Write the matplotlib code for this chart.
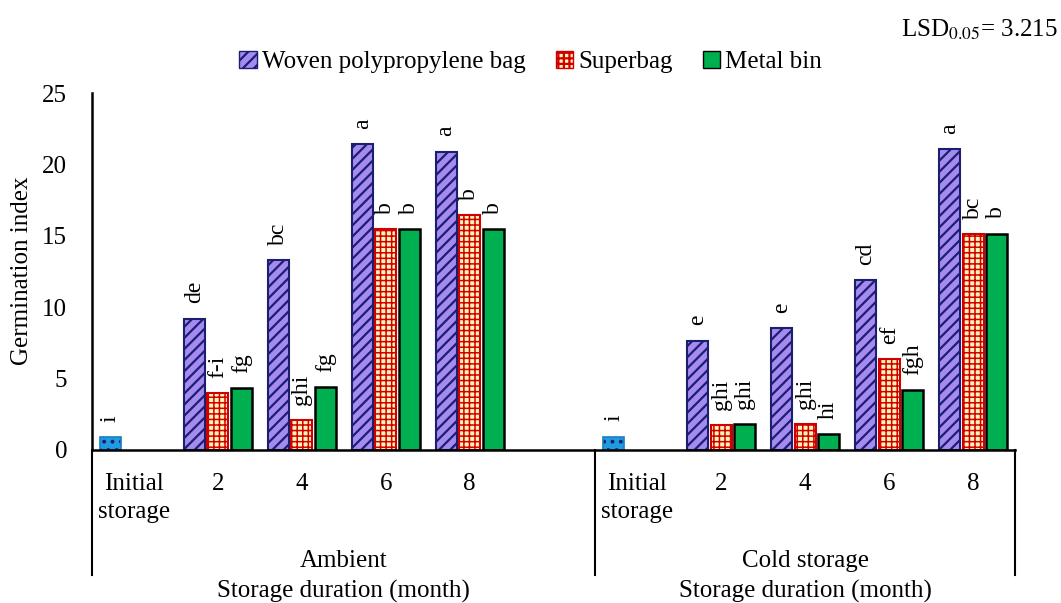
import matplotlib
matplotlib.use('Agg')
import matplotlib.pyplot as plt
from matplotlib.patches import Patch
from matplotlib.lines import Line2D
import numpy as np

plt.rcParams['font.family'] = ['Liberation Serif', 'DejaVu Serif']
plt.rcParams['mathtext.fontset'] = 'stix'
plt.rcParams['hatch.linewidth'] = 1.6

# data
months = ['2', '4', '6', '8']
initial_value = 0.92
initial_cold = 0.93

woven_amb = [9.2, 13.3, 21.4, 20.9]
super_amb = [4.0, 2.1, 15.45, 16.45]
metal_amb = [4.35, 4.4, 15.45, 15.45]
woven_cold = [7.65, 8.55, 11.9, 21.05]
super_cold = [1.75, 1.8, 6.35, 15.1]
metal_cold = [1.8, 1.1, 4.2, 15.15]

lab_woven_amb = ['de', 'bc', 'a', 'a']
lab_super_amb = ['f-i', 'ghi', 'b', 'b']
lab_metal_amb = ['fg', 'fg', 'b', 'b']
lab_woven_cold = ['e', 'e', 'cd', 'a']
lab_super_cold = ['ghi', 'ghi', 'ef', 'bc']
lab_metal_cold = ['ghi', 'hi', 'fgh', 'b']
lab_initial = 'i'

fig = plt.figure(figsize=(10.61, 6.03), dpi=100)
ax = fig.add_axes([92/1061, 153/603, 923/1061, 357/603])

step = 0.28
w = 0.25
navy = '#1c1f6e'
purple = '#a58af2'
red = '#d10000'
yellow = '#fff3b8'
green = '#00b050'
blue = '#1f9be0'

amb_pos = np.array([1, 2, 3, 4])
cold_pos = np.array([7, 8, 9, 10])


def label(x, y, s):
    ax.annotate(s, (x, y), xytext=(0, 11), textcoords='offset points',
                rotation=90, ha='center', va='bottom', fontsize=17)


def thin_hatch(bars, lw):
    for b in bars:
        if hasattr(b, 'set_hatch_linewidth'):
            b.set_hatch_linewidth(lw)


# initial storage bars (ambient and cold)
for p, v in [(0, initial_value), (6, initial_cold)]:
    ax.bar(p - step, v, w, color=blue, hatch='..', edgecolor=navy, linewidth=0)
    ax.bar(p - step, v, w, fill=False, edgecolor='#1a7fc0', linewidth=1.2)
    label(p - step, v, lab_initial)

for pos, wv, sv, mv, lw_, ls_, lm_ in [
        (amb_pos, woven_amb, super_amb, metal_amb, lab_woven_amb, lab_super_amb, lab_metal_amb),
        (cold_pos, woven_cold, super_cold, metal_cold, lab_woven_cold, lab_super_cold, lab_metal_cold)]:
    ax.bar(pos - step, wv, w, color=purple, hatch='///', edgecolor=navy, linewidth=1.5)
    sb = ax.bar(pos, sv, w, color=yellow, hatch='+++', edgecolor=red, linewidth=1.5)
    thin_hatch(sb, 1.1)
    ax.bar(pos + step, mv, w, color=green, edgecolor='black', linewidth=1.8)
    for i in range(4):
        label(pos[i] - step, wv[i], lw_[i])
        label(pos[i], sv[i], ls_[i])
        label(pos[i] + step, mv[i], lm_[i])

ax.set_xlim(-0.5, 10.5)
ax.set_ylim(0, 25)
ax.set_yticks([0, 5, 10, 15, 20, 25])
ax.tick_params(axis='y', length=0, pad=18, labelsize=18)
ax.set_xticks([])
for s in ['top', 'right']:
    ax.spines[s].set_visible(False)
ax.spines['left'].set_linewidth(1.8)
ax.spines['bottom'].set_linewidth(1.8)

# category labels
tr = ax.get_xaxis_transform()
cats = [(0, 'Initial\nstorage'), (6, 'Initial\nstorage')]
for i, m in enumerate(months):
    cats.append((amb_pos[i], m))
    cats.append((cold_pos[i], m))
for x, s in cats:
    ax.text(x, -0.065, s, transform=tr, ha='center', va='top', fontsize=18,
            linespacing=1.35)

for x in [-0.5, 5.5, 10.5]:
    ax.add_line(Line2D([x, x], [0, -0.35], transform=tr, color='black',
                       linewidth=1.5, clip_on=False))

for xc, s in [(2.5, 'Ambient'), (8.0, 'Cold storage')]:
    ax.text(xc, -0.31, s, transform=tr, ha='center', va='center', fontsize=18)
    ax.text(xc, -0.395, 'Storage duration (month)', transform=tr,
            ha='center', va='center', fontsize=18)

fig.text(22/1061, 1 - 271/603, 'Germination index', rotation=90,
         ha='center', va='center', fontsize=18)

handles = [Patch(facecolor=purple, hatch='///', edgecolor=navy),
           Patch(facecolor=yellow, hatch='+++', edgecolor=red),
           Patch(facecolor=green, edgecolor='black')]
fig.legend(handles, ['Woven polypropylene bag', 'Superbag', 'Metal bin'],
           loc='center', bbox_to_anchor=(0.5, 1 - 62/603), ncol=3,
           frameon=False, fontsize=18, handlelength=0.7, handleheight=0.7,
           handletextpad=0.2, columnspacing=1.2)

fig.text(1058/1061, 1 - 30/603, 'LSD$_{0.05}$= 3.215', ha='right', va='center',
         fontsize=18)

fig.savefig('out.png', dpi=100)
